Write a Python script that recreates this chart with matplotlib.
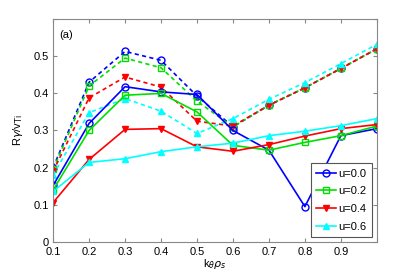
import numpy as np
import matplotlib
matplotlib.use('Agg')
import matplotlib.pyplot as plt

plt.rcParams['font.family'] = ['Liberation Sans', 'DejaVu Sans']

k = [0.1, 0.2, 0.3, 0.4, 0.5, 0.6, 0.7, 0.8, 0.9, 1.0]

# solid curves
u00 = [0.152, 0.319, 0.418, 0.404, 0.397, 0.300, 0.247, 0.095, 0.286, 0.305]
u02 = [0.140, 0.300, 0.395, 0.400, 0.350, 0.260, 0.247, 0.268, 0.286, 0.312]
u04 = [0.106, 0.222, 0.303, 0.305, 0.256, 0.244, 0.262, 0.285, 0.305, 0.316]
u06 = [0.136, 0.214, 0.224, 0.243, 0.256, 0.266, 0.286, 0.298, 0.313, 0.332]

# dashed curves
d00 = [0.200, 0.430, 0.513, 0.489, 0.393, 0.310, 0.368, 0.415, 0.467, 0.520]
d02 = [0.195, 0.420, 0.495, 0.469, 0.379, 0.310, 0.368, 0.415, 0.467, 0.520]
d04 = [0.190, 0.388, 0.444, 0.417, 0.325, 0.312, 0.368, 0.415, 0.467, 0.520]
d06 = [0.180, 0.348, 0.386, 0.352, 0.292, 0.332, 0.384, 0.429, 0.480, 0.532]

labels = ['u=0.0', 'u=0.2', 'u=0.4', 'u=0.6']
colors = ['#0000ff', '#00e000', '#ff0000', '#00ffff']
markers = ['o', 's', 'v', '^']
faces = ['none', 'none', '#ff0000', '#00ffff']

fig = plt.figure(figsize=(4.15, 2.73), dpi=100)
ax = fig.add_axes([0.128, 0.114, 0.780, 0.816])

for y, c, m, f in zip([d00, d02, d04, d06], colors, markers, faces):
    ax.plot(k, y, '--', color=c, marker=m, mfc=f, mec=c, ms=5, lw=1.2,
            dashes=(2.5, 2))
for y, c, m, f, lab in zip([u00, u02, u04, u06], colors, markers, faces, labels):
    ax.plot(k, y, '-', color=c, marker=m, mfc=f, mec=c, ms=5, lw=1.2,
            label=lab)

ax.set_xlim(0.1, 1.0)
ax.set_ylim(0, 0.6)
ax.set_xticks([0.1, 0.2, 0.3, 0.4, 0.5, 0.6, 0.7, 0.8, 0.9, 1.0])
ax.set_xticklabels(['0.1', '0.2', '0.3', '0.4', '0.5', '0.6', '0.7', '0.8', '0.9', ''])
ax.set_yticks([0, 0.1, 0.2, 0.3, 0.4, 0.5, 0.6])
ax.set_yticklabels(['0', '0.1', '0.2', '0.3', '0.4', '0.5', ''])
ax.tick_params(direction='in', top=True, right=True, labelsize=8, length=3,
               color='#888888')
ax.tick_params(axis='x', pad=4)
ax.tick_params(axis='y', pad=3)
for s in ax.spines.values():
    s.set_color('#888888')

ax.set_xlabel(r'k$_\theta\rho_s$', fontsize=8, labelpad=0)
ax.set_ylabel(r'R$\gamma$/v$_{\mathrm{Ti}}$', fontsize=8, labelpad=6)
ax.text(0.02, 0.95, '(a)', transform=ax.transAxes, fontsize=8, va='top')

leg = ax.legend(loc='lower right', fontsize=8, fancybox=False, framealpha=1,
                edgecolor='#555555', handlelength=1.8, borderaxespad=0.4,
                labelspacing=0.7, handletextpad=0.2, borderpad=0.5)
leg.get_frame().set_linewidth(0.8)

fig.savefig('out.png', dpi=100)
